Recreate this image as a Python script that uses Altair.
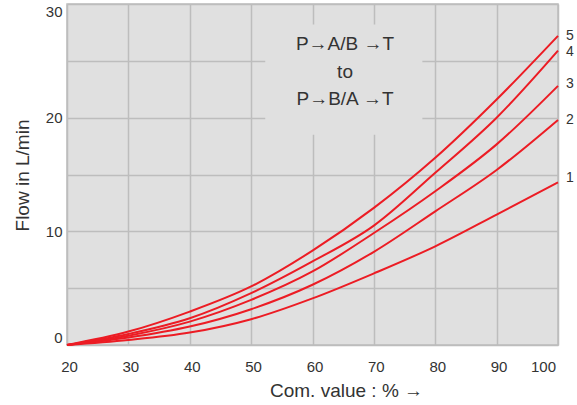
import altair as alt
import pandas as pd

com_value = [20, 30, 40, 50, 60, 70, 80, 90, 100]
curve_1 = [0, 0.44, 1.09, 2.27, 4.1, 6.3, 8.68, 11.47, 14.3]
curve_2 = [0, 0.65, 1.62, 3.15, 5.3, 8.2, 11.76, 15.4, 19.8]
curve_3 = [0, 0.82, 2.06, 3.97, 6.47, 9.85, 13.53, 17.65, 22.8]
curve_4 = [0, 0.97, 2.35, 4.56, 7.35, 10.5, 15.15, 20.0, 25.9]
curve_5 = [0, 1.18, 2.94, 5.15, 8.3, 12.06, 16.47, 21.6, 27.2]
curve_names = ["1", "2", "3", "4", "5"]
label_y = [14.7, 19.8, 22.95, 25.8, 27.15]
note_lines = ["P→A/B →T", "to", "P→B/A →T"]
note_y = [26.5, 24.05, 21.6]
note_x = 65.3
box = {"x": 52.3, "x2": 77.9, "y": 18.5, "y2": 28.2}

FONT = "Liberation Sans"
TXT = "#333333"
RED = "#ec1c24"
BG = "#e0e0e0"
GRID = "#bdbdbd"

rows = []
for name, vals in zip(curve_names, [curve_1, curve_2, curve_3, curve_4, curve_5]):
    for xv, yv in zip(com_value, vals):
        rows.append({"curve": name, "x": xv, "y": yv})
df = pd.DataFrame(rows)

xscale = alt.Scale(domain=[20, 100], nice=False, zero=False)
yscale = alt.Scale(domain=[0, 30], nice=False)

xaxis = alt.Axis(
    values=com_value, grid=True, gridColor=GRID, gridWidth=1.5,
    domain=False, ticks=False, labelFont=FONT, labelFontSize=15,
    labelColor=TXT, labelPadding=14, labelFlush=False,
    labelOffset=alt.condition("datum.value == 100", alt.value(-15), alt.value(2)),
    title="Com. value : %  →",
    titleFont=FONT, titleFontSize=19, titleFontWeight="normal",
    titleColor=TXT, titleX=279, titleY=36, titleAlign="center",
    titleBaseline="top",
)
yaxis = alt.Axis(
    values=[0, 5, 10, 15, 20, 25, 30], grid=True, gridColor=GRID, gridWidth=1.5,
    domain=False, ticks=False, labelFont=FONT, labelFontSize=15,
    labelColor=TXT, labelPadding=5, labelFlush=True,
    labelExpr="datum.value % 10 == 0 ? datum.label : ''",
    title="Flow in L/min", titleFont=FONT, titleFontSize=19,
    titleFontWeight="normal", titleColor=TXT, titleX=-45, titleY=171,
    titleAlign="center", titleBaseline="middle", titleAngle=-90,
)

base = alt.Chart(df)

frame = alt.Chart(pd.DataFrame({"a": [0]})).mark_point(opacity=0).encode(
    x=alt.X("a:Q", scale=xscale, axis=xaxis),
    y=alt.Y("a:Q", scale=yscale, axis=yaxis),
)

box_df = pd.DataFrame([box])
box_layer = alt.Chart(box_df).mark_rect(fill=BG).encode(
    x=alt.X("x:Q", scale=xscale), x2="x2:Q",
    y=alt.Y("y:Q", scale=yscale), y2="y2:Q",
)

lines = base.mark_line(color=RED, strokeWidth=2, interpolate="monotone").encode(
    x=alt.X("x:Q", scale=xscale),
    y=alt.Y("y:Q", scale=yscale),
    detail="curve:N",
)

lab_df = pd.DataFrame({"curve": curve_names, "x": [100] * 5, "y": label_y})
labels = alt.Chart(lab_df).mark_text(
    align="left", baseline="middle", dx=8, font=FONT, fontSize=14, color=TXT
).encode(
    x=alt.X("x:Q", scale=xscale), y=alt.Y("y:Q", scale=yscale), text="curve:N"
)

note_df = pd.DataFrame({"t": note_lines, "x": [note_x] * 3, "y": note_y})
notes = alt.Chart(note_df).mark_text(
    align="center", baseline="middle", font=FONT, fontSize=19, color=TXT
).encode(
    x=alt.X("x:Q", scale=xscale), y=alt.Y("y:Q", scale=yscale), text="t:N"
)

chart = alt.layer(frame, box_layer, lines, labels, notes).properties(
    width=491, height=341,
    autosize=alt.AutoSizeParams(type="none"),
    padding={"left": 67, "top": 4, "right": 19, "bottom": 60},
    background="white",
).configure_view(
    fill=BG, stroke=GRID, strokeWidth=1.5,
)

chart.save("out.html", embed_options={"renderer": "svg", "actions": False})
